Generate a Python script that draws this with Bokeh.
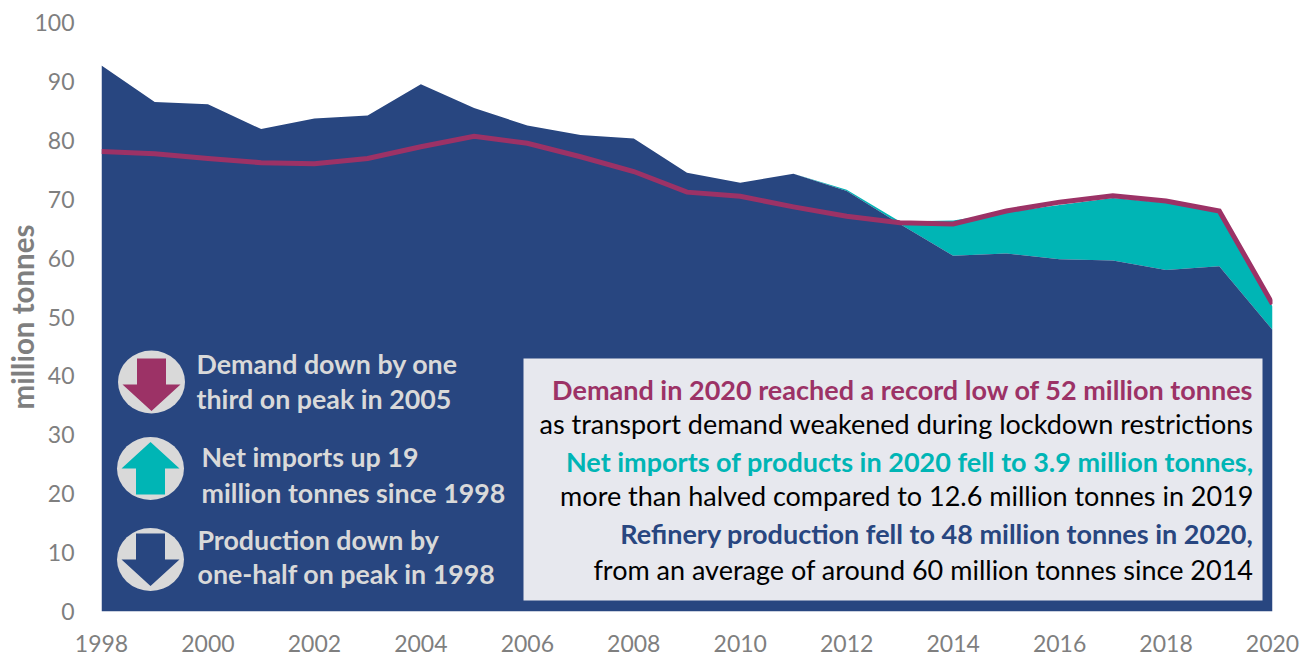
from bokeh.plotting import figure
from bokeh.embed import file_html
from bokeh.resources import INLINE
from bokeh.core.properties import value
from bokeh.models import FixedTicker, Range1d

years = list(range(1998, 2021))
production = [92.7, 86.5, 86.1, 81.9, 83.7, 84.2, 89.5, 85.5, 82.5, 80.9, 80.3, 74.5,
              72.8, 74.3, 71.4, 65.8, 60.4, 60.8, 59.8, 59.6, 58.0, 58.6, 47.8]
supply_top = [92.7, 86.5, 86.1, 81.9, 83.7, 84.2, 89.5, 85.5, 82.5, 80.9, 80.3, 74.5,
              72.8, 74.3, 71.6, 66.2, 66.4, 67.8, 69.0, 70.2, 69.4, 67.8, 51.8]
demand = [78.1, 77.7, 76.9, 76.2, 76.0, 76.9, 78.9, 80.7, 79.5, 77.2, 74.7, 71.2,
          70.5, 68.7, 67.1, 66.0, 65.8, 68.0, 69.5, 70.6, 69.7, 68.0, 52.2]
x_ticks = list(range(1998, 2021, 2))
y_ticks = list(range(0, 101, 10))

NAVY, TEAL, PLUM, GREY, LIGHT = "#284680", "#00b5b5", "#9c3266", "#7f7f7f", "#d9d9d9"
FONT = "Lato"

L, R, T, B = 101, 1272, 22, 611
W, H = 1300, 657
p = figure(width=W, height=H, output_backend="svg", toolbar_location=None,
           x_range=Range1d(1998, 2020), y_range=Range1d(0, 100),
           min_border_left=L, min_border_right=W - R,
           min_border_top=T, min_border_bottom=H - B)
p.background_fill_color = None
p.outline_line_color = None
p.grid.visible = False

def X(px): return 1998 + (px - L) / (R - L) * 22
def Y(px): return (B - px) / (B - T) * 100

p.varea(years, production, supply_top, fill_color=TEAL)
p.varea(years, [0] * len(years), production, fill_color=NAVY)
p.line(years, demand, line_color=PLUM, line_width=5, line_join="miter")

for ax in (p.xaxis[0], p.yaxis[0]):
    ax.axis_line_color = None
    ax.major_tick_line_color = None
    ax.minor_tick_line_color = None
    ax.major_label_text_color = GREY
    ax.major_label_text_font = FONT
    ax.major_label_text_font_size = "23px"
p.xaxis[0].major_label_standoff = 17
p.yaxis[0].major_label_standoff = 21
p.xaxis[0].ticker = FixedTicker(ticks=x_ticks)
p.yaxis[0].ticker = FixedTicker(ticks=y_ticks)
p.yaxis[0].axis_label = "million tonnes"
p.yaxis[0].axis_label_text_color = GREY
p.yaxis[0].axis_label_text_font = FONT
p.yaxis[0].axis_label_text_font_style = "bold"
p.yaxis[0].axis_label_text_font_size = "29.5px"
p.yaxis[0].axis_label_standoff = -9

# text box
p.quad(left=X(523), right=X(1262), top=Y(358), bottom=Y(600), fill_color="#e7e8ee", line_color=None)

def txt(px, py, s, color, bold=False, align="left", size="27px"):
    p.text([X(px)], [Y(py)], text=[s], text_color=color, text_font=value(FONT), text_font_size=size,
           text_font_style="bold" if bold else "normal", text_align=align, text_baseline="middle")

box_lines = [
    ("Demand in 2020 reached a record low of 52 million tonnes", PLUM, True, 389),
    ("as transport demand weakened during lockdown restrictions", "#000000", False, 423),
    ("Net imports of products in 2020 fell to 3.9 million tonnes,", TEAL, True, 461),
    ("more than halved compared to 12.6 million tonnes in 2019", "#000000", False, 495),
    ("Refinery production fell to 48 million tonnes in 2020,", NAVY, True, 533),
    ("from an average of around 60 million tonnes since 2014", "#000000", False, 569),
]
for s, c, b, py in box_lines:
    txt(1253, py, s, c, b, "right")

left_lines = [
    ("Demand down by one", 196, 363), ("third on peak in 2005", 196, 398),
    ("Net imports up 19", 201, 456), ("million tonnes since 1998", 201, 492),
    ("Production down by", 197, 539), ("one-half on peak in 1998", 197, 573),
]
for s, px, py in left_lines:
    txt(px, py, s, LIGHT, True, size="26.8px")

def icon(cx, cy, ax_, ay, color, direction):
    # icon disc and block arrow, given in pixels about their centres
    p.ellipse([X(cx)], [Y(cy)], width=67, height=63, width_units="screen", height_units="screen",
              fill_color=LIGHT, line_color=None)
    outline = [(-14.5, -26), (14.5, -26), (14.5, 0), (29, 0), (0, 26.5), (-29, 0), (-14.5, 0)]
    p.patch([X(ax_ + a) for a, b in outline], [Y(ay + direction * b) for a, b in outline],
            fill_color=color, line_color=None)

icon(151, 381.5, 151, 384, PLUM, 1)
icon(150, 468, 150, 468, TEAL, -1)
icon(150, 559, 150, 559, NAVY, 1)

open("out.html", "w").write(file_html(p, INLINE))
